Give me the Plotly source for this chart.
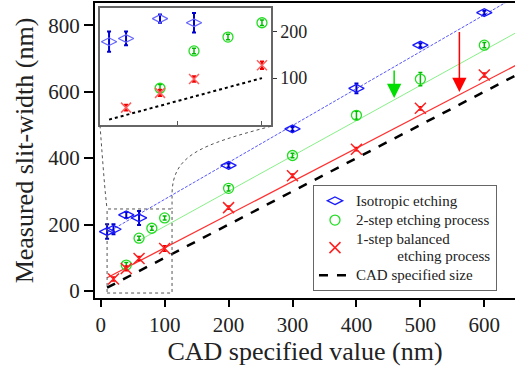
import plotly.graph_objects as go

# ---------------- data ----------------
iso_x = [10, 20, 40, 60, 200, 300, 400, 500, 600]
iso_y = [179, 186, 229, 220, 378, 488, 610, 740, 838]
iso_err = [22, 15, 9, 21, 6, 6, 15, 6, 6]

two_x = [40, 60, 80, 100, 200, 300, 400, 500, 600]
two_y = [78, 159, 189, 220, 309, 408, 529, 638, 740]
two_err = [8, 6, 6, 6, 8, 7, 12, 20, 8]

one_x = [20, 40, 60, 100, 200, 300, 400, 500, 600]
one_y = [36, 68, 98, 128, 251, 347, 427, 550, 650]
one_err = [6, 7, 6, 8, 5, 5, 5, 5, 6]

# fitted guide lines (end points)
iso_fit_x = [10, 650]
iso_fit_y = [176, 887]
two_fit_x = [58, 650]
two_fit_y = [150, 778]
one_fit_x = [10, 650]
one_fit_y = [40, 680]
cad_x = [10, 650]
cad_y = [10, 650]
cad_in_x = [10, 100]
cad_in_y = [10, 100]

# arrows: x, start y, end y
green_arrow = [459, 668, 581]
red_arrow = [561, 784, 599]

# zoom region (main data coords)
zoom_box = [10, 111.6, -6, 247]

series_names = ["Isotropic etching", "2-step etching process",
                "1-step balanced<br>" + "\u00a0" * 11 + "etching process",
                "CAD specified size"]

FONT = "Times New Roman"
BLUE, GREEN, RED = "#1a1aff", "#22dd22", "#ff2020"


def lg(name):
    return '<span style="font-size:15px">' + name.replace(
        "<br>", '</span><br><span style="font-size:15px">') + "</span>"


fig = go.Figure()

# fit lines
fig.add_trace(go.Scatter(x=iso_fit_x, y=iso_fit_y, mode="lines",
                         line=dict(color="#5555ff", width=1, dash="3px,1.5px"),
                         showlegend=False, hoverinfo="skip"))
fig.add_trace(go.Scatter(x=two_fit_x, y=two_fit_y, mode="lines",
                         line=dict(color="#88f088", width=1),
                         showlegend=False, hoverinfo="skip"))
fig.add_trace(go.Scatter(x=one_fit_x, y=one_fit_y, mode="lines",
                         line=dict(color="#ff3030", width=1.3),
                         showlegend=False, hoverinfo="skip"))

# data
fig.add_trace(go.Scatter(x=iso_x, y=iso_y, mode="markers", name=lg(series_names[0]),
                         marker=dict(symbol="diamond-wide-open", size=11, color=BLUE,
                                     line=dict(width=1.3, color=BLUE)),
                         error_y=dict(type="data", array=iso_err, color="#0000cc",
                                      thickness=2, width=2)))
fig.add_trace(go.Scatter(x=two_x, y=two_y, mode="markers", name=lg(series_names[1]),
                         marker=dict(symbol="circle-open", size=10, color=GREEN,
                                     line=dict(width=1.3, color=GREEN)),
                         error_y=dict(type="data", array=two_err, color="#00bb00",
                                      thickness=1.5, width=2)))
fig.add_trace(go.Scatter(x=one_x, y=one_y, mode="markers", name=lg(series_names[2]),
                         marker=dict(symbol="x-thin-open", size=11, color=RED,
                                     line=dict(width=1.5, color=RED)),
                         error_y=dict(type="data", array=one_err, color="#ee0000",
                                      thickness=1.5, width=2)))
fig.add_trace(go.Scatter(x=cad_x, y=cad_y, mode="lines", name=lg(series_names[3]),
                         line=dict(color="black", width=2.5, dash="dash")))

# inset traces
fig.add_trace(go.Scatter(x=iso_x[:4], y=iso_y[:4], mode="markers", xaxis="x2", yaxis="y2",
                         marker=dict(symbol="diamond-wide-open", size=11, color="#6666ff",
                                     line=dict(width=1.2, color="#6666ff")),
                         error_y=dict(type="data", array=iso_err[:4], color="#0000cc",
                                      thickness=2, width=2), showlegend=False))
fig.add_trace(go.Scatter(x=two_x[:4], y=two_y[:4], mode="markers", xaxis="x2", yaxis="y2",
                         marker=dict(symbol="circle-open", size=10, color=GREEN,
                                     line=dict(width=1.3, color=GREEN)),
                         error_y=dict(type="data", array=two_err[:4], color="#00bb00",
                                      thickness=1.5, width=2), showlegend=False))
fig.add_trace(go.Scatter(x=one_x[:4], y=one_y[:4], mode="markers", xaxis="x2", yaxis="y2",
                         marker=dict(symbol="x-thin-open", size=10, color="#ff6060",
                                     line=dict(width=1.5, color="#ff6060")),
                         error_y=dict(type="data", array=one_err[:4], color="#ee0000",
                                      thickness=2, width=2), showlegend=False))
fig.add_trace(go.Scatter(x=cad_in_x, y=cad_in_y, mode="lines", xaxis="x2", yaxis="y2",
                         line=dict(color="black", width=2, dash="dot"), showlegend=False))

# zoom box and connectors
shapes = [
    dict(type="rect", xref="x", yref="y", x0=zoom_box[0], x1=zoom_box[1],
         y0=zoom_box[2], y1=zoom_box[3], line=dict(color="#555555", width=1, dash="dot"),
         layer="above"),
    dict(type="path", xref="x", yref="y",
         path="M -1.1,499 C 3.6,379 6.5,300 10,247",
         line=dict(color="#555555", width=1, dash="dot"), layer="above"),
    dict(type="path", xref="x", yref="y",
         path="M 266.5,496 C 155,439 111.6,409 111.6,289 L 111.6,247",
         line=dict(color="#555555", width=1, dash="dot"), layer="above"),
]

annotations = [
    dict(x=green_arrow[0], y=green_arrow[2], ax=green_arrow[0], ay=green_arrow[1],
         xref="x", yref="y", axref="x", ayref="y", showarrow=True, arrowhead=2,
         arrowsize=1.9, arrowwidth=1.5, arrowcolor="#00dd00", text=""),
    dict(x=red_arrow[0], y=red_arrow[2], ax=red_arrow[0], ay=red_arrow[1],
         xref="x", yref="y", axref="x", ayref="y", showarrow=True, arrowhead=2,
         arrowsize=1.9, arrowwidth=1.5, arrowcolor="#ff0000", text=""),
]

fig.update_layout(
    width=515, height=376,
    margin=dict(l=95, r=0, t=3, b=78, autoexpand=False),
    paper_bgcolor="white", plot_bgcolor="white",
    font=dict(family=FONT, color="#222222", size=20),
    shapes=shapes, annotations=annotations,
    xaxis=dict(range=[-8.9, 648], tickvals=[0, 100, 200, 300, 400, 500, 600],
               showgrid=False, zeroline=False, showline=True, linecolor="black",
               linewidth=2, mirror=True, ticks="outside", ticklen=7, tickwidth=2,
               tickcolor="black", tickfont=dict(size=21, family=FONT),
               title=dict(text="CAD specified value (nm)", font=dict(size=26, family=FONT),
                          standoff=3)),
    yaxis=dict(range=[-21, 867], tickvals=[0, 200, 400, 600, 800],
               showgrid=False, zeroline=False, showline=True, linecolor="black",
               linewidth=2, ticks="outside", ticklen=9, tickwidth=2, tickcolor="black",
               tickfont=dict(size=21, family=FONT),
               title=dict(text="Measured slit-width (nm)", font=dict(size=26, family=FONT),
                          standoff=7)),
    xaxis2=dict(domain=[0.012, 0.419], anchor="y2", range=[4.7, 105.3],
                tickvals=[50, 100], ticks="inside", ticklen=4, tickcolor="#555555",
                showticklabels=False, showgrid=False, zeroline=False, showline=True,
                linecolor="#666666", linewidth=1.5, mirror=True),
    yaxis2=dict(domain=[0.586, 0.983], anchor="x2", range=[-2, 252], side="right",
                tickvals=[100, 200], ticks="outside", ticklen=4, tickcolor="#333333",
                tickfont=dict(size=18, family=FONT), showgrid=False,
                zeroline=False, showline=True, linecolor="#666666", linewidth=1.5,
                mirror=True),
    legend=dict(x=0.519, y=0.383, xanchor="left", yanchor="top",
                bgcolor="white", bordercolor="#666666", borderwidth=1,
                font=dict(size=12.6, family=FONT, color="#222222"),
                tracegroupgap=0, itemwidth=32),
)

fig.write_html("out.html")
